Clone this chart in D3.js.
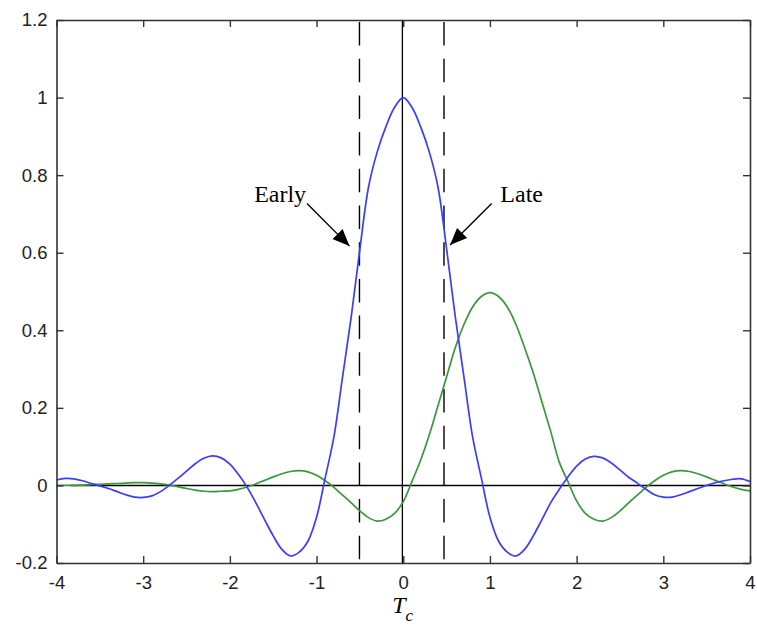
<!DOCTYPE html>
<html>
<head>
<meta charset="utf-8">
<script src="https://cdn.jsdelivr.net/npm/d3@7"></script>
<style>
  body { margin: 0; background: #fff; }
  .tick text { font-family: "Liberation Sans", Arial, sans-serif; font-size: 18.5px; fill: #222; }
</style>
</head>
<body>
<div id="chart"></div>
<script>
// delay axis (in chips), sampled every 0.1 Tc
var delays = [-4.0,-3.9,-3.8,-3.7,-3.6,-3.5,-3.4,-3.3,-3.2,-3.1,
  -3.0,-2.9,-2.8,-2.7,-2.6,-2.5,-2.4,-2.3,-2.2,-2.1,
  -2.0,-1.9,-1.8,-1.7,-1.6,-1.5,-1.4,-1.3,-1.2,-1.1,
  -1.0,-0.9,-0.8,-0.7,-0.6,-0.5,-0.4,-0.3,-0.2,-0.1,
  0.0,0.1,0.2,0.3,0.4,0.5,0.6,0.7,0.8,0.9,
  1.0,1.1,1.2,1.3,1.4,1.5,1.6,1.7,1.8,1.9,
  2.0,2.1,2.2,2.3,2.4,2.5,2.6,2.7,2.8,2.9,
  3.0,3.1,3.2,3.3,3.4,3.5,3.6,3.7,3.8,3.9,4.0];

// blue: autocorrelation
var blueVals = [0.014,0.018,0.017,0.012,0.005,-0.001,-0.008,-0.016,-0.024,-0.030,
  -0.031,-0.027,-0.016,0.000,0.018,0.037,0.056,0.070,0.076,0.071,
  0.055,0.028,-0.005,-0.045,-0.088,-0.130,-0.165,-0.182,-0.172,-0.144,
  -0.082,0.020,0.125,0.280,0.435,0.610,0.770,0.860,0.925,0.975,
  1.000,0.975,0.925,0.860,0.770,0.610,0.435,0.280,0.125,0.020,
  -0.082,-0.144,-0.172,-0.182,-0.165,-0.130,-0.088,-0.045,-0.010,0.022,
  0.050,0.068,0.075,0.071,0.058,0.040,0.021,0.006,-0.010,-0.024,
  -0.030,-0.030,-0.024,-0.016,-0.008,0.000,0.007,0.012,0.016,0.017,0.010];

// green: shifted correlation
var greenVals = [0.000,0.000,0.000,0.001,0.002,0.003,0.004,0.005,0.006,0.007,
  0.007,0.006,0.004,0.001,-0.003,-0.008,-0.012,-0.015,-0.016,-0.015,
  -0.014,-0.010,-0.004,0.004,0.013,0.022,0.030,0.036,0.038,0.035,
  0.026,0.012,-0.005,-0.025,-0.045,-0.066,-0.083,-0.092,-0.087,-0.072,
  -0.042,0.010,0.065,0.130,0.205,0.280,0.355,0.415,0.460,0.487,
  0.497,0.487,0.460,0.415,0.355,0.290,0.215,0.140,0.060,0.010,
  -0.040,-0.072,-0.087,-0.092,-0.083,-0.066,-0.045,-0.025,-0.005,0.012,
  0.026,0.035,0.038,0.036,0.030,0.022,0.013,0.004,-0.004,-0.010,-0.014];

var xTicks = [-4,-3,-2,-1,0,1,2,3,4];
var yTicks = [-0.2,0,0.2,0.4,0.6,0.8,1,1.2];

// early / prompt / late markers
var dashedAt = [-0.505, 0.47];
var promptAt = -0.01;
var zeroLineFrom = -3.84;

var notes = [
  {label: "Early", tx: -1.72, ty: 0.73, x1: -1.11, y1: 0.727, x2: -0.62, y2: 0.617},
  {label: "Late",  tx: 1.12,  ty: 0.73, x1: 1.02,  y1: 0.727, x2: 0.54,  y2: 0.62}
];

var width = 757, height = 627;
var margin = {left: 56.5, top: 20, right: 7, bottom: 64};

var x = d3.scaleLinear().domain([-4, 4]).range([margin.left, width - margin.right]);
var y = d3.scaleLinear().domain([-0.2, 1.2]).range([height - margin.bottom, margin.top]);

var svg = d3.select("#chart").append("svg")
  .attr("width", width)
  .attr("height", height);

svg.append("defs").append("marker")
  .attr("id", "head")
  .attr("viewBox", "0 0 10 10")
  .attr("refX", 10).attr("refY", 5)
  .attr("markerWidth", 17).attr("markerHeight", 17)
  .attr("markerUnits", "userSpaceOnUse")
  .attr("orient", "auto")
  .append("path")
  .attr("d", "M0,0.8 L10,5 L0,9.2 Z")
  .attr("fill", "#000");

var line = d3.line()
  .x(function(d, i) { return x(delays[i]); })
  .y(function(d) { return y(d); })
  .curve(d3.curveCatmullRom);

// zero line + vertical markers
svg.append("line")
  .attr("x1", x(zeroLineFrom)).attr("x2", x(4))
  .attr("y1", y(0)).attr("y2", y(0))
  .attr("stroke", "#000").attr("stroke-width", 1.4);

svg.append("line")
  .attr("x1", x(promptAt)).attr("x2", x(promptAt))
  .attr("y1", y(1.2)).attr("y2", y(-0.2))
  .attr("stroke", "#000").attr("stroke-width", 1.3);

svg.selectAll(".dash")
  .data(dashedAt)
  .enter().append("line")
  .attr("class", "dash")
  .attr("x1", function(d) { return x(d); }).attr("x2", function(d) { return x(d); })
  .attr("y1", y(1.2) + 2).attr("y2", y(-0.2))
  .attr("stroke", "#000").attr("stroke-width", 1.4)
  .attr("stroke-dasharray", "23.5,13.2");

svg.append("path")
  .datum(greenVals)
  .attr("d", line)
  .attr("fill", "none")
  .attr("stroke", "#3a983a")
  .attr("stroke-width", 1.7);

svg.append("path")
  .datum(blueVals)
  .attr("d", line)
  .attr("fill", "none")
  .attr("stroke", "#3c3cff")
  .attr("stroke-width", 1.7);

// axes, matlab style box with inward ticks
var axisColor = "#333";
var gx = svg.append("g")
  .attr("transform", "translate(0," + y(-0.2) + ")")
  .call(d3.axisBottom(x).tickValues(xTicks).tickSizeInner(-7).tickSizeOuter(0).tickPadding(13));
var gxt = svg.append("g")
  .attr("transform", "translate(0," + y(1.2) + ")")
  .call(d3.axisTop(x).tickValues(xTicks).tickSizeInner(-7).tickSizeOuter(0).tickFormat(""));
var gy = svg.append("g")
  .attr("transform", "translate(" + x(-4) + ",0)")
  .call(d3.axisLeft(y).tickValues(yTicks).tickSizeInner(-7).tickSizeOuter(0).tickPadding(9));
var gyr = svg.append("g")
  .attr("transform", "translate(" + x(4) + ",0)")
  .call(d3.axisRight(y).tickValues(yTicks).tickSizeInner(-7).tickSizeOuter(0).tickFormat(""));

[gx, gxt, gy, gyr].forEach(function(g) {
  g.attr("color", axisColor);
  g.select(".domain").attr("stroke-width", 1.6);
  g.selectAll(".tick line").attr("stroke-width", 1.4);
});
// plain hyphen minus, like the original
gx.selectAll(".tick text").text(function(d) { return d < 0 ? "-" + Math.abs(d) : d; });
gy.selectAll(".tick text").text(function(d) {
  var v = +d.toFixed(1);
  return v < 0 ? "-" + Math.abs(v) : String(v);
});

// annotations
var ann = svg.selectAll(".note")
  .data(notes)
  .enter().append("g")
  .attr("class", "note");

ann.append("text")
  .attr("x", function(d) { return x(d.tx); })
  .attr("y", function(d) { return y(d.ty); })
  .attr("font-family", "'Liberation Serif', 'Times New Roman', serif")
  .attr("font-size", 24)
  .text(function(d) { return d.label; });

ann.append("line")
  .attr("x1", function(d) { return x(d.x1); })
  .attr("y1", function(d) { return y(d.y1); })
  .attr("x2", function(d) { return x(d.x2); })
  .attr("y2", function(d) { return y(d.y2); })
  .attr("stroke", "#000")
  .attr("stroke-width", 1.4)
  .attr("marker-end", "url(#head)");

// x label T_c
var xl = svg.append("text")
  .attr("x", x(0) - 11)
  .attr("y", 613)
  .attr("font-family", "'Liberation Serif', 'Times New Roman', serif")
  .attr("font-style", "italic")
  .attr("font-size", 24);
xl.append("tspan").text("T");
xl.append("tspan").attr("font-size", 17).attr("dy", 8).text("c");
</script>
</body>
</html>
